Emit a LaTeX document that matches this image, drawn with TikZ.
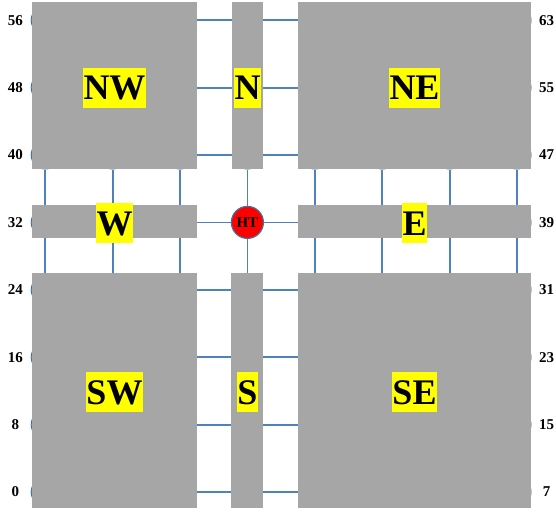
\documentclass[tikz,border=0pt]{standalone}
\usepackage{fontspec}
\setmainfont{Liberation Serif}
\definecolor{linkblue}{HTML}{4F81BD}
\definecolor{nodeblue}{HTML}{41719C}
\definecolor{regiongray}{HTML}{A6A6A6}
\definecolor{tagyellow}{HTML}{FFFF00}
\definecolor{htred}{HTML}{FF0000}
\tikzset{
  mnode/.style={circle, draw=nodeblue, line width=1pt, fill=white, minimum size=28pt, inner sep=0pt},
  htnode/.style={circle, draw=nodeblue, line width=1.2pt, fill=htred, minimum size=32pt, inner sep=0pt,
    font=\bfseries\fontsize{15}{17}\selectfont},
  link/.style={draw=linkblue, line width=1.8pt},
  region/.style={fill=regiongray, draw=none},
  tag/.style={fill=tagyellow, text=black, font=\bfseries\fontsize{36}{40}\selectfont,
    inner xsep=0.5pt, inner ysep=0pt, text height=32pt, text depth=8pt},
  num/.style={font=\bfseries\fontsize{15}{18}\selectfont, inner sep=0pt}
}
\begin{document}
\begin{tikzpicture}[x=1pt,y=-1pt]
\useasboundingbox (0,0) rectangle (556,512);
% mesh nodes
\foreach \i in {0,...,63}{
  \pgfmathtruncatemacro\cc{mod(\i,8)}
  \pgfmathtruncatemacro\rr{div(\i,8)}
  \pgfmathsetmacro\xx{45.2+67.4*\cc}
  \pgfmathsetmacro\yy{492-67.4*\rr}
  \ifnum\i=35
    \node[htnode] (n\i) at (\xx,\yy) {HT};
  \else
    \node[mnode] (n\i) at (\xx,\yy) {};
  \fi
}
% horizontal links
\foreach \rr in {0,...,7}{
  \foreach \cc in {0,...,6}{
    \pgfmathtruncatemacro\a{8*\rr+\cc}
    \pgfmathtruncatemacro\b{\a+1}
    \draw[link] (n\a) -- (n\b);
  }
}
% vertical links
\foreach \a in {0,...,55}{
  \pgfmathtruncatemacro\b{\a+8}
  \draw[link] (n\a) -- (n\b);
}
% regions
\fill[region] (32,2) rectangle (197,169);
\fill[region] (232,2) rectangle (263,169);
\fill[region] (298,2) rectangle (531,169);
\fill[region] (32,205) rectangle (197,238);
\fill[region] (298,205) rectangle (531,238);
\fill[region] (32,273) rectangle (197,508);
\fill[region] (231,273) rectangle (263,508);
\fill[region] (298,273) rectangle (531,508);
% region tags
\node[tag] (tNW) at (114.5,87.5) {NW};
\node[tag] (tN) at (247.5,87.5) {N};
\node[tag] (tNE) at (414.5,87.5) {NE};
\node[tag] (tW) at (114.5,223) {W};
\node[tag] (tE) at (414.5,223) {E};
\node[tag] (tSW) at (114.5,392) {SW};
\node[tag] (tS) at (247.5,392) {S};
\node[tag] (tSE) at (414.5,392) {SE};
% row numbers
\foreach \rr in {0,...,7}{
  \pgfmathtruncatemacro\lft{8*\rr}
  \pgfmathtruncatemacro\rgt{8*\rr+7}
  \pgfmathsetmacro\yy{492-67.4*\rr}
  \node[num] (l\rr) at (15.5,\yy) {\lft};
  \node[num] (r\rr) at (546.5,\yy) {\rgt};
}
\end{tikzpicture}
\end{document}
